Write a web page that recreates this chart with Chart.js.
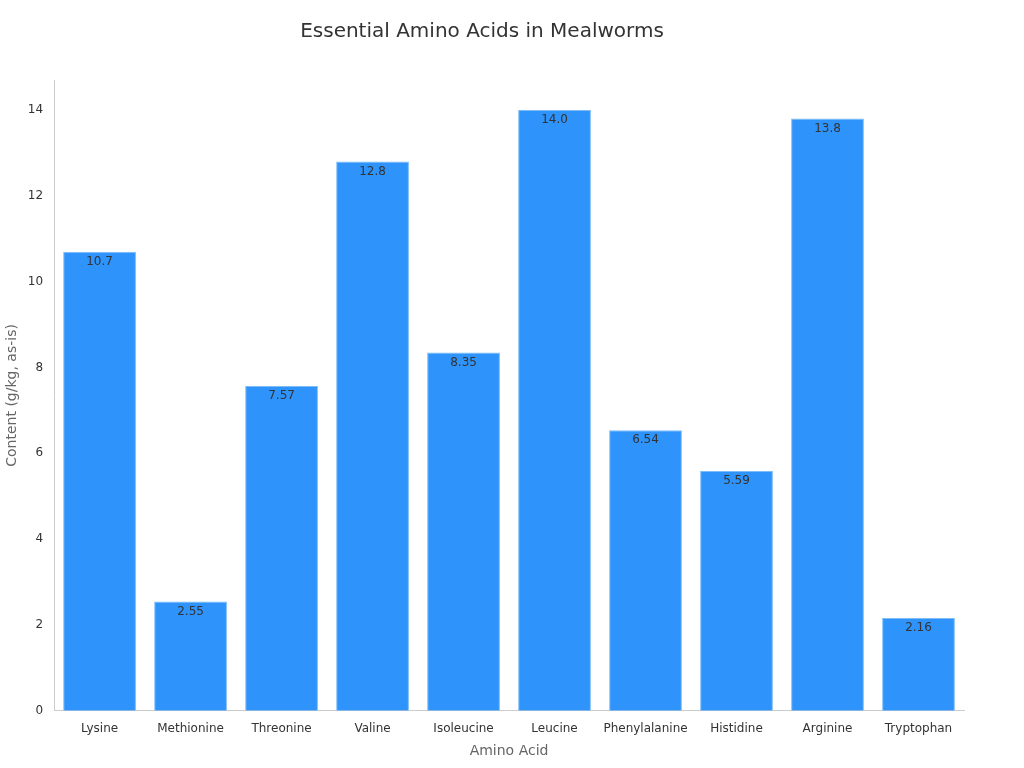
<!DOCTYPE html>
<html>
<head>
<meta charset="utf-8">
<script src="https://cdn.jsdelivr.net/npm/chart.js@4"></script>
<style>
  html, body { margin: 0; padding: 0; background: #fff; }
  #wrap { width: 1024px; height: 768px; }
</style>
</head>
<body>
<div id="wrap"><canvas id="chart"></canvas></div>
<script>
/* ===== DATA ===== */
const aminoAcids = ["Lysine","Methionine","Threonine","Valine","Isoleucine","Leucine","Phenylalanine","Histidine","Arginine","Tryptophan"];
const content = [10.7, 2.55, 7.57, 12.8, 8.35, 14.0, 6.54, 5.59, 13.8, 2.16];
const valueLabels = ["10.7","2.55","7.57","12.8","8.35","14.0","6.54","5.59","13.8","2.16"];

/* ===== LABEL DI DALAM BATANG ===== */
const barLabels = {
  id: "barLabels",
  afterDatasetsDraw(chart) {
    const ctx = chart.ctx;
    chart.getDatasetMeta(0).data.forEach((bar, i) => {
      ctx.save();
      ctx.font = "12px 'DejaVu Sans'";
      ctx.fillStyle = "#333";
      ctx.textAlign = "center";
      ctx.textBaseline = "top";
      ctx.fillText(valueLabels[i], bar.x, bar.y + 4);
      ctx.restore();
    });
  }
};

new Chart(document.getElementById("chart"), {
  type: "bar",
  data: {
    labels: aminoAcids,
    datasets: [{
      data: content,
      backgroundColor: "#2e93fa",
      borderColor: "#7dbcf7",
      borderWidth: 1,
      barPercentage: 0.8,
      categoryPercentage: 1.0
    }]
  },
  options: {
    responsive: true,
    maintainAspectRatio: false,
    animation: false,
    layout: { padding: { left: 0, right: 60, top: 10, bottom: 4 } },
    plugins: {
      legend: { display: false },
      tooltip: { enabled: false },
      title: {
        display: true,
        text: "Essential Amino Acids in Mealworms",
        color: "#333",
        font: { family: "'DejaVu Sans'", size: 20, weight: "normal" },
        padding: { top: 10, bottom: 36 }
      }
    },
    scales: {
      x: {
        grid: { display: false, drawTicks: true },
        border: { color: "#ccc" },
        ticks: { color: "#333", font: { family: "'DejaVu Sans'", size: 12 } },
        title: { display: true, text: "Amino Acid", color: "#666",
          font: { family: "'DejaVu Sans'", size: 14 } }
      },
      y: {
        min: 0, max: 14.7,
        grid: { display: false, drawTicks: true },
        border: { color: "#ccc" },
        afterBuildTicks: axis => { axis.ticks = [0,2,4,6,8,10,12,14].map(v => ({ value: v })); },
        ticks: { color: "#333", font: { family: "'DejaVu Sans'", size: 12 } },
        title: { display: true, text: "Content (g/kg, as-is)", color: "#666",
          font: { family: "'DejaVu Sans'", size: 14 } }
      }
    }
  },
  plugins: [barLabels]
});
</script>
</body>
</html>
